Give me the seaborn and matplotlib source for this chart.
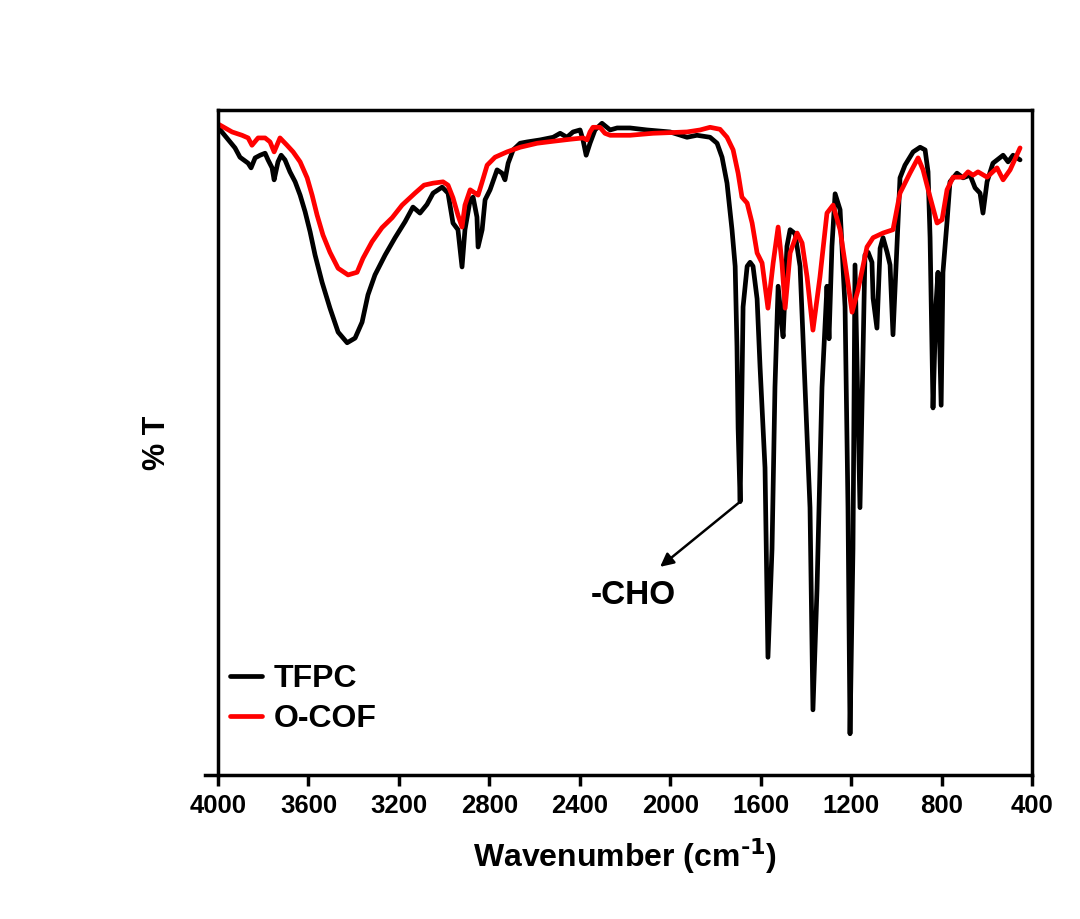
import numpy as np
import pandas as pd
import matplotlib
matplotlib.use("Agg")
import matplotlib.pyplot as plt
import seaborn as sns

# TFPC spectrum (wavenumber cm-1, relative %T)
tfpc_wn = [4000, 3925, 3903, 3867, 3854, 3836, 3814, 3792, 3779, 3761, 3752, 3735,
           3721, 3704, 3682, 3659, 3637, 3615, 3593, 3571, 3540, 3505, 3469, 3429,
           3394, 3363, 3337, 3306, 3261, 3217, 3173, 3138, 3107, 3076, 3049, 3009,
           2983, 2961, 2939, 2921, 2908, 2885, 2872, 2855, 2850, 2832, 2819, 2797,
           2766, 2744, 2731, 2717, 2695, 2664, 2633, 2576, 2518, 2487, 2457, 2430,
           2399, 2386, 2372, 2355, 2333, 2302, 2266, 2235, 2178, 2103, 2001, 1926,
           1882, 1824, 1793, 1771, 1749, 1727, 1713, 1705, 1700, 1691, 1683, 1678,
           1660, 1647, 1634, 1616, 1603, 1581, 1568, 1550, 1537, 1523, 1506, 1501,
           1484, 1470, 1448, 1426, 1404, 1382, 1369, 1351, 1329, 1307, 1298, 1285,
           1271, 1249, 1227, 1214, 1205, 1192, 1183, 1161, 1139, 1125, 1108, 1103,
           1086, 1072, 1059, 1041, 1028, 1015, 997, 984, 962, 926, 895, 873,
           860, 851, 838, 825, 816, 802, 794, 776, 763, 732, 705, 674,
           652, 630, 617, 599, 573, 528, 506, 484, 453]
tfpc_t = [97.4, 94.3, 92.9, 92.0, 91.3, 92.8, 93.2, 93.5, 92.5, 91.3, 89.5, 92.2,
          93.2, 92.5, 90.7, 89.2, 87.2, 84.7, 81.7, 78.2, 74.1, 70.2, 66.6, 65.0,
          65.7, 68.1, 72.2, 75.2, 78.2, 80.8, 83.2, 85.4, 84.5, 85.8, 87.5, 88.4,
          87.5, 83.0, 82.0, 76.4, 82.0, 86.5, 86.9, 83.9, 79.4, 82.0, 86.5, 88.0,
          91.0, 90.5, 89.5, 92.0, 94.0, 95.0, 95.2, 95.5, 95.9, 96.5, 95.9, 96.7,
          97.0, 95.5, 93.2, 95.0, 97.0, 98.0, 97.0, 97.3, 97.3, 97.0, 96.7, 95.9,
          96.2, 95.9, 95.0, 92.9, 89.0, 82.0, 76.5, 64.4, 52.2, 41.1, 58.3, 70.4,
          76.5, 77.1, 76.5, 71.6, 61.4, 46.2, 17.7, 34.0, 58.3, 73.5, 67.4, 65.9,
          79.5, 82.0, 81.4, 76.5, 58.3, 40.2, 9.8, 28.0, 58.3, 73.5, 65.6, 79.5,
          87.4, 85.0, 70.4, 40.2, 6.2, 34.0, 76.7, 40.2, 78.2, 78.6, 77.1, 71.7,
          67.2, 79.2, 80.8, 78.6, 76.7, 66.2, 79.7, 89.8, 91.7, 93.7, 94.4, 94.0,
          90.7, 80.8, 55.2, 70.7, 75.6, 55.6, 75.6, 83.2, 89.2, 90.5, 89.8, 90.2,
          88.3, 87.5, 84.5, 89.2, 92.0, 93.2, 92.2, 93.2, 92.5]

# O-COF spectrum
ocof_wn = [4000, 3938, 3894, 3867, 3850, 3823, 3792, 3770, 3752, 3726, 3695, 3668,
           3637, 3606, 3584, 3562, 3536, 3505, 3469, 3425, 3385, 3359, 3319, 3275,
           3230, 3186, 3129, 3089, 3049, 3005, 2983, 2961, 2939, 2921, 2908, 2885,
           2863, 2850, 2832, 2810, 2775, 2722, 2664, 2589, 2518, 2443, 2386, 2368,
           2355, 2342, 2311, 2289, 2266, 2178, 2076, 1926, 1868, 1824, 1780, 1749,
           1722, 1700, 1683, 1660, 1638, 1616, 1594, 1568, 1545, 1523, 1506, 1492,
           1470, 1439, 1417, 1395, 1369, 1338, 1307, 1280, 1249, 1218, 1196, 1170,
           1130, 1103, 1059, 1015, 984, 940, 904, 882, 851, 820, 798, 776,
           749, 705, 683, 661, 639, 599, 555, 528, 497, 453]
ocof_t = [97.9, 96.7, 96.2, 95.8, 94.7, 95.8, 95.8, 95.2, 93.7, 95.8, 94.7, 93.7,
          92.2, 89.8, 87.2, 84.2, 81.2, 78.6, 76.2, 75.2, 75.6, 77.7, 80.2, 82.3,
          83.8, 85.7, 87.5, 88.7, 89.0, 89.2, 88.7, 86.8, 84.2, 82.4, 85.7, 88.0,
          87.5, 87.2, 89.2, 91.7, 92.9, 93.7, 94.4, 95.0, 95.3, 95.6, 95.8, 95.5,
          96.7, 97.4, 97.4, 96.5, 96.2, 96.2, 96.5, 96.7, 97.0, 97.4, 97.1, 95.9,
          94.0, 90.5, 86.9, 86.0, 83.0, 78.5, 77.0, 70.2, 77.0, 82.4, 77.0, 70.2,
          78.5, 81.5, 80.0, 74.9, 66.9, 74.9, 84.5, 85.7, 82.0, 74.9, 69.6, 72.9,
          79.4, 80.8, 81.5, 82.0, 87.5, 90.5, 92.8, 91.0, 86.9, 83.0, 83.5, 88.0,
          89.9, 89.9, 90.7, 90.2, 90.7, 89.9, 91.3, 89.5, 91.0, 94.3]

x_ticks = [4000, 3600, 3200, 2800, 2400, 2000, 1600, 1200, 800, 400]

df = pd.concat([
    pd.DataFrame({"wn": tfpc_wn, "T": tfpc_t, "sample": "TFPC"}),
    pd.DataFrame({"wn": ocof_wn, "T": ocof_t, "sample": "O-COF"}),
])

sns.set_style("ticks")
plt.rcParams["font.family"] = ["Liberation Sans", "DejaVu Sans"]
plt.rcParams["font.weight"] = "bold"
plt.rcParams["text.color"] = "black"
plt.rcParams["axes.labelcolor"] = "black"
plt.rcParams["axes.edgecolor"] = "black"
plt.rcParams["xtick.color"] = "black"
plt.rcParams["mathtext.default"] = "bf"

fig = plt.figure(figsize=(10.8, 9.19), dpi=100)
ax = fig.add_axes([0.2019, 0.1567, 0.7537, 0.7236])

sns.lineplot(data=df, x="wn", y="T", hue="sample", estimator=None, sort=False,
             palette={"TFPC": "black", "O-COF": "red"}, linewidth=3.4, ax=ax)

ax.set_xlim(4000, 400)
ax.set_ylim(0, 100)
ax.set_xticks(x_ticks)
ax.set_xticklabels([str(t) for t in x_ticks], fontsize=18.5, fontweight="bold", color="black")
ax.set_yticks([])
ax.tick_params(axis="x", direction="out", length=8, width=2.5, pad=6, colors="black")
for s in ax.spines.values():
    s.set_linewidth(2.5)
    s.set_color("black")
    s.set_visible(True)
ax.spines["bottom"].set_bounds(400, 4057)

ax.set_xlabel("Wavenumber (cm$^{\\text{-}1}$)", fontsize=23, fontweight="bold",
              labelpad=13, color="black")
ax.set_ylabel("% T", fontsize=22, fontweight="bold", labelpad=33, color="black")

# -CHO annotation: arrow from the peak tip down-left to the label
ax.annotate("", xy=(2045, 31.3), xytext=(1691, 41.1),
            arrowprops=dict(arrowstyle="-|>", color="black", lw=1.8,
                            mutation_scale=20, shrinkA=0, shrinkB=0))
ax.text(2165, 27.0, "-CHO", fontsize=24, fontweight="bold", ha="center",
        va="center", color="black")

leg = ax.legend(loc="center left", bbox_to_anchor=(0.015, 0.114), frameon=False,
                fontsize=23, handlelength=1.0, handletextpad=0.35,
                labelspacing=0.3, borderpad=0, borderaxespad=0)
for t in leg.get_texts():
    t.set_fontweight("bold")
    t.set_color("black")
for l in leg.get_lines():
    l.set_linewidth(3.4)

fig.savefig("out.png", dpi=100)
